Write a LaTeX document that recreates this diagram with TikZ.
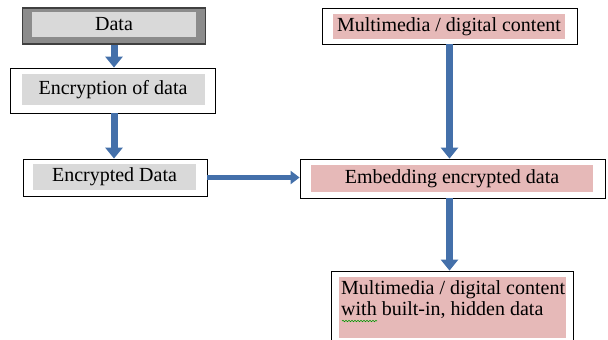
\documentclass[tikz,border=0pt]{standalone}
\usepackage{fontspec}
\setmainfont{Liberation Serif}
\usetikzlibrary{arrows.meta,decorations.pathmorphing}
\definecolor{stripgray}{RGB}{217,217,217}
\definecolor{stripred}{RGB}{230,185,184}
\definecolor{framegray}{RGB}{140,140,140}
\definecolor{flowblue}{RGB}{68,112,170}
\tikzset{
  frame/.style={draw=black, line width=0.8pt, fill=white, inner sep=0pt},
  strip/.style={inner sep=0pt, font=\fontsize{20}{21}\selectfont},
  flow/.style={draw=flowblue, line width=7pt, -{Triangle[width=17pt,length=11pt]}},
}
\begin{document}
\begin{tikzpicture}[x=1pt,y=-1pt]
\useasboundingbox (0,0) rectangle (608,340);
% left column
\node[frame, fill=framegray, draw=black!75, line width=1.5pt, minimum width=183pt, minimum height=36pt] (data) at (114,26) {};
\node[strip, fill=stripgray, minimum width=164pt, minimum height=25pt] (datatxt) at (114,24.5) {Data};
\node[frame, minimum width=205pt, minimum height=45pt] (encr) at (113,90.5) {};
\node[strip, fill=stripgray, minimum width=183pt, minimum height=31pt] (encrtxt) at (113,89.5) {Encryption of data};
\node[frame, minimum width=184pt, minimum height=37pt] (encd) at (115,177.5) {};
\node[strip, fill=stripgray, minimum width=163pt, minimum height=26pt] (encdtxt) at (114.5,177) {Encrypted Data};
% right column
\node[frame, minimum width=255pt, minimum height=36pt] (mm) at (449.5,26) {};
\node[strip, fill=stripred, minimum width=232pt, minimum height=25pt] (mmtxt) at (449,26.5) {Multimedia / digital content};
\node[frame, minimum width=305pt, minimum height=39pt] (emb) at (452.5,178.5) {};
\node[strip, fill=stripred, minimum width=282pt, minimum height=27pt] (embtxt) at (452,178.5) {Embedding encrypted data};
\node[frame, minimum width=242pt, minimum height=80pt] (out) at (452,311) {};
\node[strip, fill=stripred, minimum width=227pt, minimum height=61pt] (outbg) at (452,307.5) {};
\node[strip, anchor=north west, align=left] (outtxt) at (341,280) {Multimedia / digital content\\with built-in, hidden data};
\draw[green!60!black, line width=0.6pt, decorate, decoration={snake, amplitude=0.7pt, segment length=3pt}] (342,321) -- (377,321);
% arrows
\draw[flow] (data.south -| 114,0) -- (encr.north -| 114,0);
\draw[flow] (encr.south -| 114,0) -- (encd.north -| 114,0);
\draw[flow, line width=5pt, -{Triangle[width=13pt,length=9pt]}] (encd.east) -- (encd.east -| emb.west);
\draw[flow] (mm) -- (mm |- emb.north);
\draw[flow] (emb.south -| mm) -- (out.north -| mm);
\end{tikzpicture}
\end{document}
